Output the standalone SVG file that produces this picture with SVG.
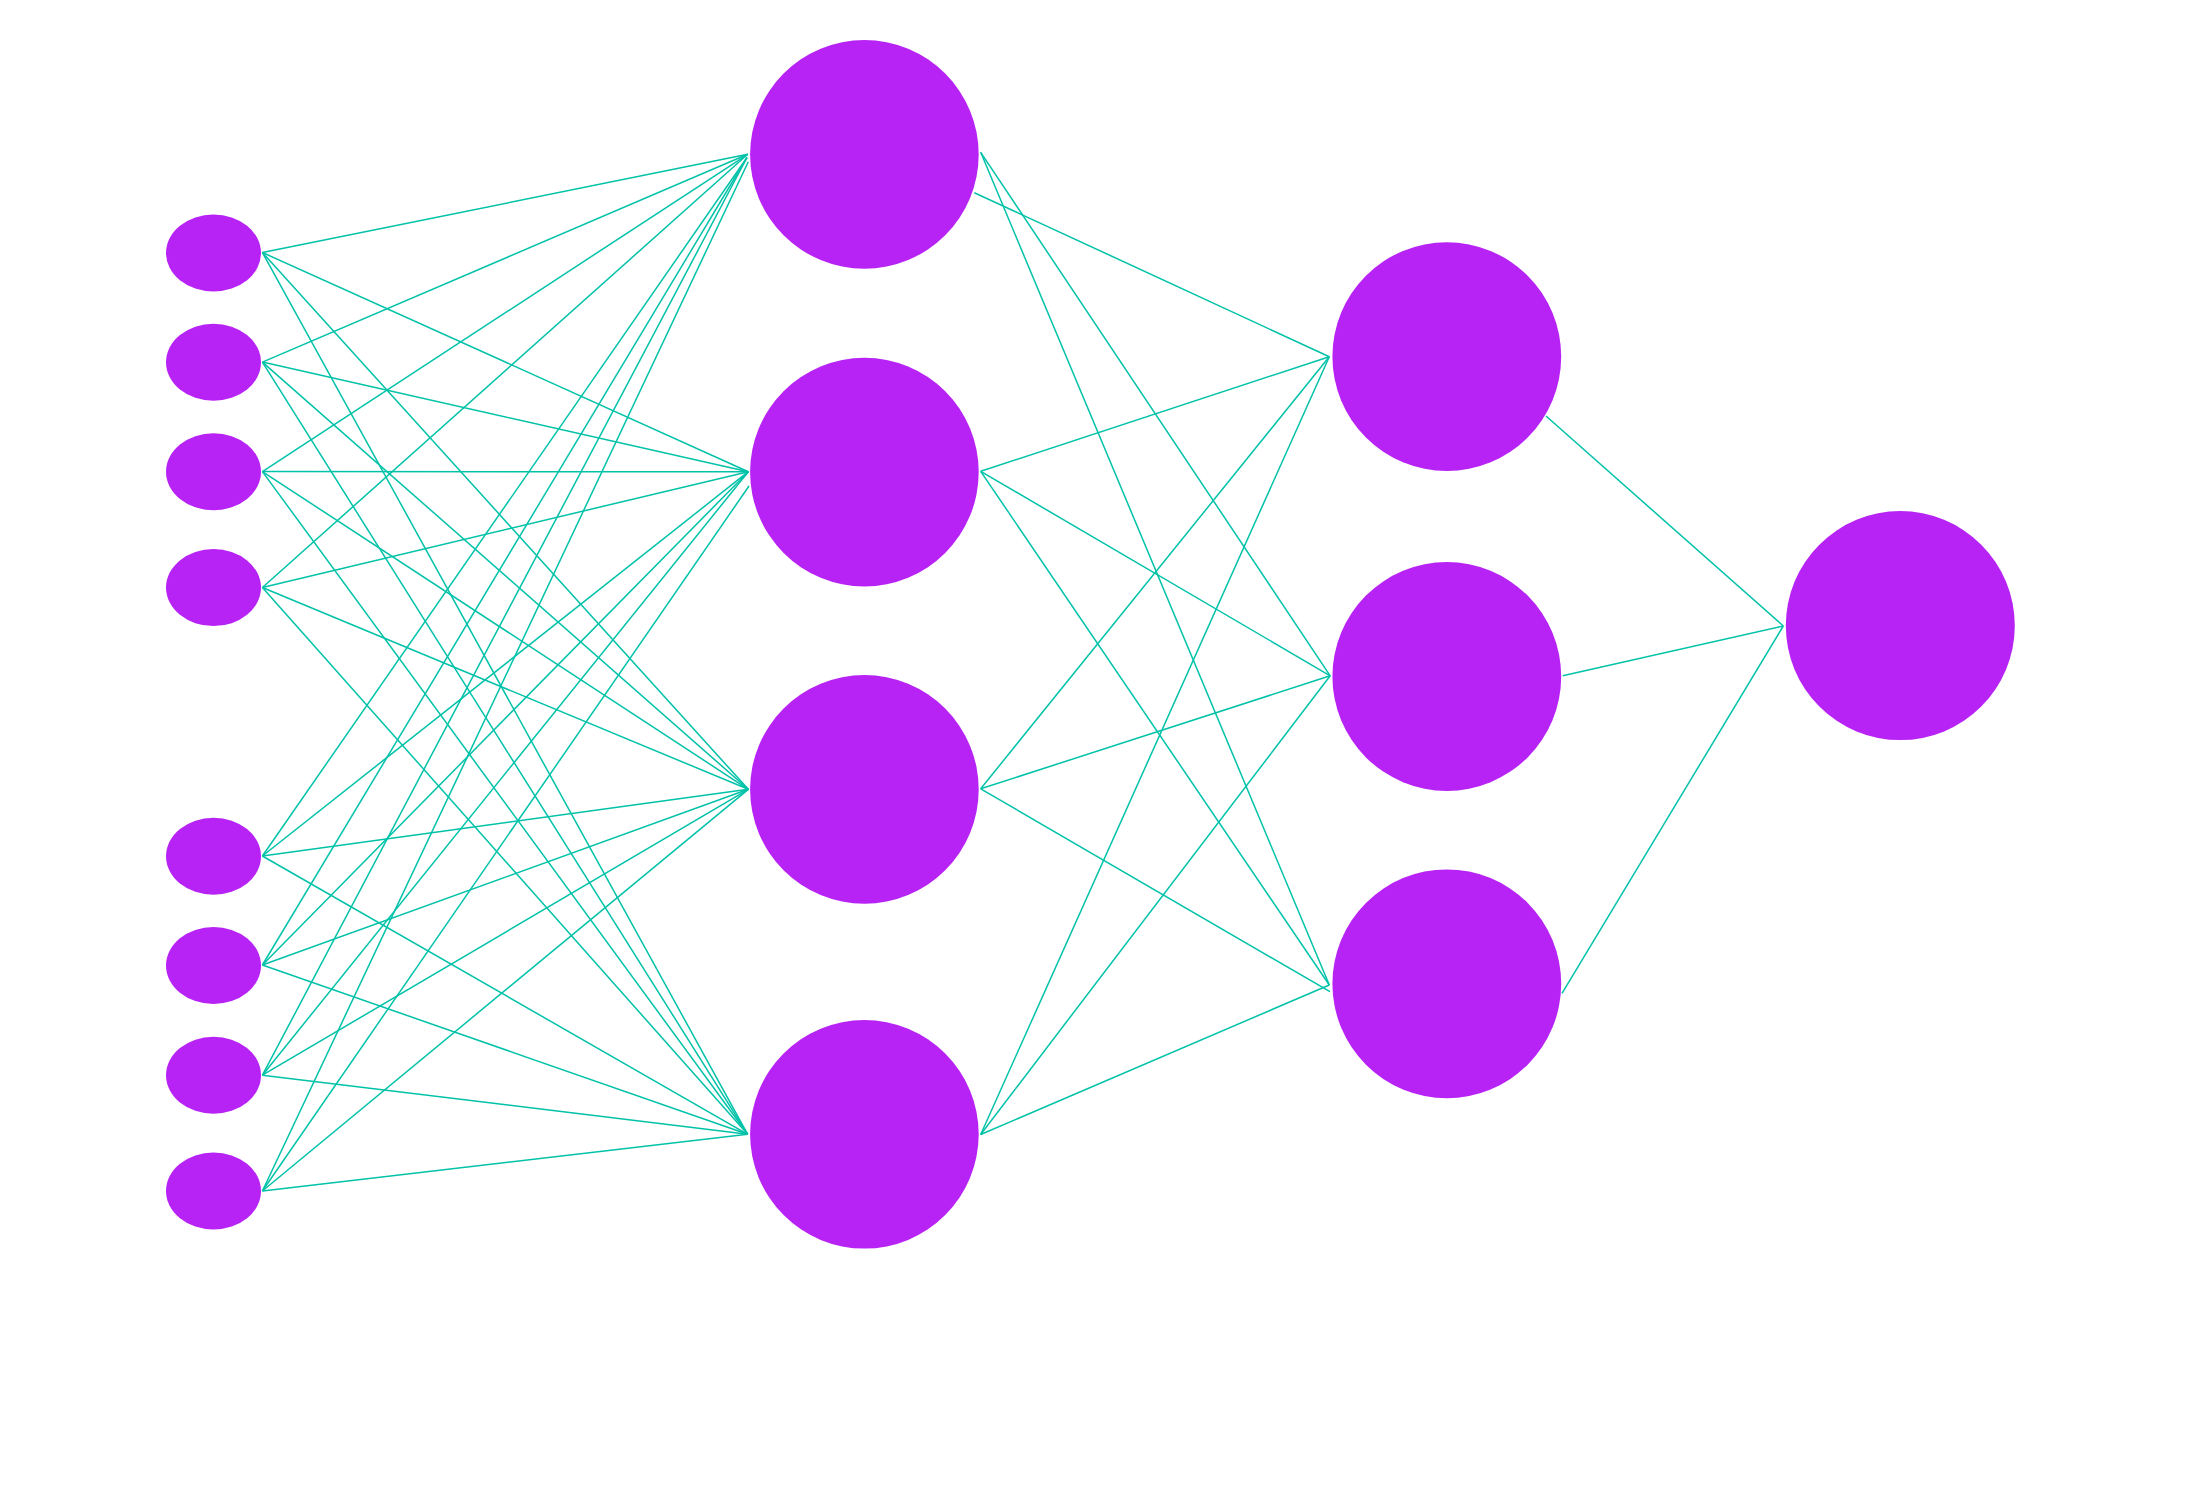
<svg xmlns="http://www.w3.org/2000/svg" width="2194" height="1509" viewBox="0 0 2194 1509">
<style>
.edge{stroke:#00C2A8;stroke-width:1.5;fill:none}
.node{fill:#B823F5}
</style>
<rect width="2194" height="1509" fill="#FFFFFF"/>
<g id="connectors">
<!-- input -> hidden1 node 1 -->
<line class="edge" x1="262.4" y1="252.5" x2="747.7" y2="154.3"/>
<line class="edge" x1="262.4" y1="362.1" x2="747.7" y2="154.3"/>
<line class="edge" x1="262.4" y1="471.6" x2="747.7" y2="154.3"/>
<line class="edge" x1="262.4" y1="587.5" x2="747.7" y2="154.3"/>
<line class="edge" x1="262.4" y1="856" x2="747" y2="157.5"/>
<line class="edge" x1="262.4" y1="965" x2="747" y2="157.5"/>
<line class="edge" x1="262.4" y1="1075.2" x2="747" y2="157.5"/>
<line class="edge" x1="262.4" y1="1191" x2="748.3" y2="161.7"/>
<!-- input -> hidden1 node 2 -->
<line class="edge" x1="262.4" y1="252.5" x2="748.3" y2="471.7"/>
<line class="edge" x1="262.4" y1="362.1" x2="748.3" y2="471.7"/>
<line class="edge" x1="262.4" y1="471.6" x2="748.3" y2="471.7"/>
<line class="edge" x1="262.4" y1="587.5" x2="748.3" y2="471.7"/>
<line class="edge" x1="262.4" y1="856" x2="748.3" y2="471.7"/>
<line class="edge" x1="262.4" y1="965" x2="748.3" y2="471.7"/>
<line class="edge" x1="262.4" y1="1075.2" x2="748.3" y2="471.7"/>
<line class="edge" x1="262.4" y1="1191" x2="749" y2="486"/>
<!-- input -> hidden1 node 3 -->
<line class="edge" x1="262.4" y1="252.5" x2="748.3" y2="789.3"/>
<line class="edge" x1="262.4" y1="362.1" x2="748.3" y2="789.3"/>
<line class="edge" x1="262.4" y1="471.6" x2="748.3" y2="789.3"/>
<line class="edge" x1="262.4" y1="587.5" x2="748.3" y2="789.3"/>
<line class="edge" x1="262.4" y1="856" x2="748.3" y2="789.3"/>
<line class="edge" x1="262.4" y1="965" x2="748.3" y2="789.3"/>
<line class="edge" x1="262.4" y1="1075.2" x2="748.3" y2="789.3"/>
<line class="edge" x1="262.4" y1="1191" x2="748.3" y2="789.3"/>
<!-- input -> hidden1 node 4 -->
<line class="edge" x1="262.4" y1="252.5" x2="747.7" y2="1134.3"/>
<line class="edge" x1="262.4" y1="362.1" x2="747.7" y2="1134.3"/>
<line class="edge" x1="262.4" y1="471.6" x2="747.7" y2="1134.3"/>
<line class="edge" x1="262.4" y1="587.5" x2="747.7" y2="1134.3"/>
<line class="edge" x1="262.4" y1="856" x2="747.7" y2="1134.3"/>
<line class="edge" x1="262.4" y1="965" x2="747.7" y2="1134.3"/>
<line class="edge" x1="262.4" y1="1075.2" x2="747.7" y2="1134.3"/>
<line class="edge" x1="262.4" y1="1191" x2="747.7" y2="1134.3"/>
<!-- hidden1 -> hidden2 -->
<line class="edge" x1="974.3" y1="192.7" x2="1329.3" y2="356.7"/>
<line class="edge" x1="980.7" y1="152.3" x2="1330.2" y2="675.8"/>
<line class="edge" x1="980.7" y1="152.3" x2="1329.3" y2="985"/>
<line class="edge" x1="980.7" y1="471.3" x2="1329.3" y2="356.7"/>
<line class="edge" x1="980.7" y1="471.3" x2="1330.2" y2="675.8"/>
<line class="edge" x1="980.7" y1="471.3" x2="1329.3" y2="985"/>
<line class="edge" x1="980.7" y1="788.8" x2="1329.3" y2="356.7"/>
<line class="edge" x1="980.7" y1="788.8" x2="1330.2" y2="675.8"/>
<line class="edge" x1="980.7" y1="788.8" x2="1330" y2="991.7"/>
<line class="edge" x1="980.7" y1="1134.5" x2="1329.3" y2="356.7"/>
<line class="edge" x1="980.7" y1="1134.5" x2="1330.2" y2="675.8"/>
<line class="edge" x1="980.7" y1="1134.5" x2="1329.3" y2="985"/>
<!-- hidden2 -> output -->
<line class="edge" x1="1546" y1="416" x2="1783.3" y2="626"/>
<line class="edge" x1="1562.7" y1="675.7" x2="1783.3" y2="626"/>
<line class="edge" x1="1562" y1="993.4" x2="1783.3" y2="626"/>
</g>
<g id="input-1"><ellipse class="node" cx="213.5" cy="253" rx="47.5" ry="38.5"/></g>
<g id="input-2"><ellipse class="node" cx="213.5" cy="362.3" rx="47.5" ry="38.5"/></g>
<g id="input-3"><ellipse class="node" cx="213.5" cy="471.7" rx="47.5" ry="38.5"/></g>
<g id="input-4"><ellipse class="node" cx="213.5" cy="587.6" rx="47.5" ry="38.5"/></g>
<g id="input-5"><ellipse class="node" cx="213.5" cy="856.3" rx="47.5" ry="38.5"/></g>
<g id="input-6"><ellipse class="node" cx="213.5" cy="965.5" rx="47.5" ry="38.5"/></g>
<g id="input-7"><ellipse class="node" cx="213.5" cy="1075.2" rx="47.5" ry="38.5"/></g>
<g id="input-8"><ellipse class="node" cx="213.5" cy="1191" rx="47.5" ry="38.5"/></g>
<g id="hidden1-1"><circle class="node" cx="864.4" cy="154.4" r="114.3"/></g>
<g id="hidden1-2"><circle class="node" cx="864.4" cy="472.1" r="114.3"/></g>
<g id="hidden1-3"><circle class="node" cx="864.4" cy="789.4" r="114.3"/></g>
<g id="hidden1-4"><circle class="node" cx="864.4" cy="1134.3" r="114.3"/></g>
<g id="hidden2-1"><circle class="node" cx="1446.8" cy="356.6" r="114.4"/></g>
<g id="hidden2-2"><circle class="node" cx="1446.8" cy="676.5" r="114.4"/></g>
<g id="hidden2-3"><circle class="node" cx="1446.8" cy="983.8" r="114.4"/></g>
<g id="output-1"><circle class="node" cx="1900.3" cy="625.6" r="114.5"/></g>
</svg>
